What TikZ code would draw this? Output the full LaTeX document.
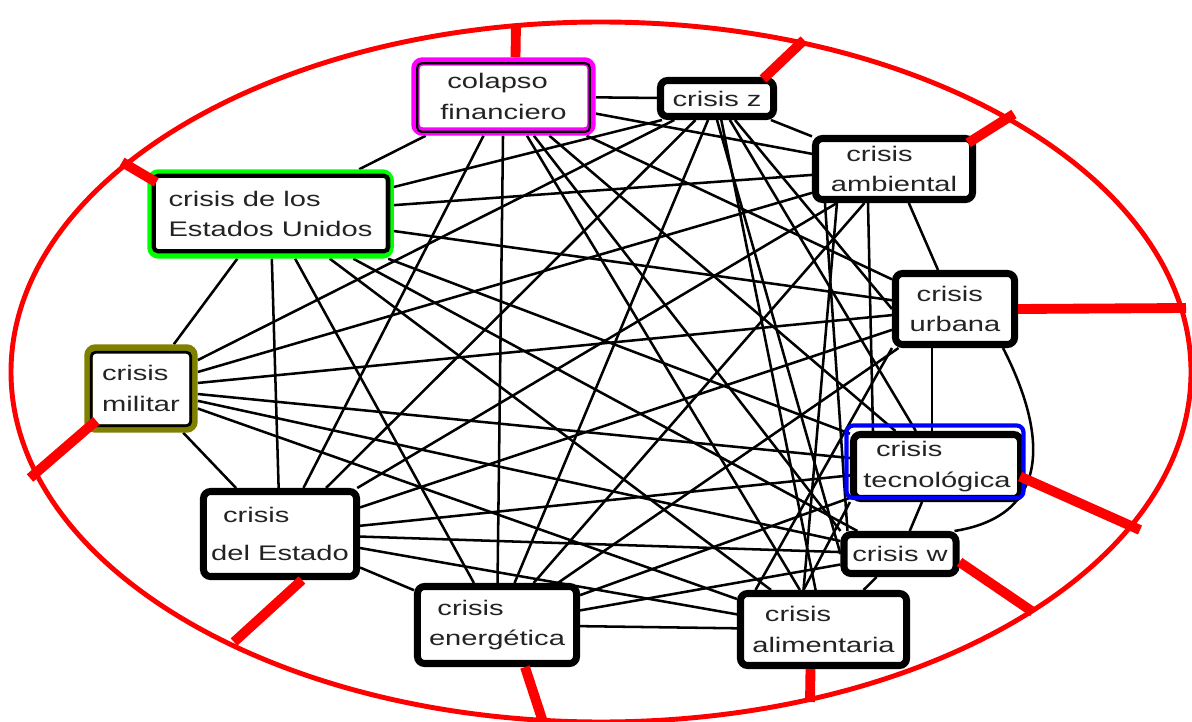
\documentclass[tikz,border=0pt]{standalone}
\usepackage{fontspec}
\setmainfont{Liberation Sans}[FakeStretch=1.38]
\usetikzlibrary{calc, backgrounds}
\definecolor{rimred}{RGB}{255, 0, 0}
\definecolor{finmagenta}{RGB}{255, 0, 255}
\definecolor{usgreen}{RGB}{0, 255, 0}
\definecolor{milolive}{RGB}{128, 128, 0}
\definecolor{tecblue}{RGB}{0, 0, 255}
\definecolor{labelgray}{RGB}{35, 35, 35}
\tikzset{
    crisisbox/.style={draw, line width=5pt, rounded corners=5pt, fill=white,
        align=left, inner sep=0pt, text=labelgray,
        font=\fontsize{15}{21.5}\selectfont},
    ringbox/.style={crisisbox, draw=#1, line width=6pt},
    innerline/.style={line width=#1, rounded corners=3pt},
    link/.style={line width=1.8pt},
    spoke/.style={draw=rimred, line width=7pt},
    rim/.style={draw=rimred, line width=3.5pt},
}

\begin{document}
\begin{tikzpicture}[x=0.025cm, y=-0.025cm]
    \useasboundingbox (0, 0) rectangle (1192, 722);
    \draw[rim] (601, 372) ellipse [x radius=590, y radius=350];
    % the crises
    \node[ringbox=finmagenta, minimum width=4.4cm, minimum height=1.75cm]
        (cf) at (503.5, 96.5) {\hspace*{5pt}colapso\\financiero};
    \draw[innerline=1.5pt] ($(cf.north west)+(6, 6)$) rectangle
        ($(cf.south east)+(-6, -4)$);
    \node[crisisbox, minimum width=2.825cm, minimum height=0.9cm]
        (cz) at (717, 98.5) {crisis z};
    \node[crisisbox, minimum width=3.925cm, minimum height=1.525cm]
        (ca) at (894, 169) {\hspace*{11pt}crisis\\ambiental};
    \node[crisisbox, minimum width=2.975cm, minimum height=1.775cm]
        (cu) at (955, 309) {\hspace*{5pt}crisis\\urbana};
    \node[crisisbox, minimum width=4.175cm, minimum height=1.6cm]
        (ct) at (937, 466.5) {\hspace*{9pt}crisis\\tecnológica};
    \draw[tecblue, line width=3pt, rounded corners=5pt]
        ($(ct.north west)+(-3.5, -5.5)$) rectangle ($(ct.south east)+(-0.5, -4)$);
    \node[crisisbox, minimum width=2.8cm, minimum height=0.975cm]
        (cw) at (900, 554) {crisis w};
    \node[crisisbox, minimum width=4.15cm, minimum height=1.8cm]
        (cal) at (823.5, 629.5) {\hspace*{9pt}crisis\\alimentaria};
    \node[crisisbox, minimum width=3.975cm, minimum height=1.925cm]
        (ce) at (497, 625) {\hspace*{6pt}crisis\\energética};
    \node[crisisbox, minimum width=3.825cm, minimum height=2.125cm]
        (cd) at (280, 534) {\hspace*{8.5pt}crisis\\[5pt]del Estado};
    \node[ringbox=milolive, minimum width=2.625cm, minimum height=2cm]
        (cm) at (141, 388.5) {crisis\\militar};
    \draw[innerline=2pt] ($(cm.north west)+(7, 8)$) rectangle
        ($(cm.south east)+(-7, -7)$);
    \node[ringbox=usgreen, minimum width=5.95cm, minimum height=2.025cm]
        (cus) at (270.5, 214) {crisis de los\\Estados Unidos};
    \draw[innerline=3pt] ($(cus.north west)+(6.5, 6.5)$) rectangle
        ($(cus.south east)+(-5.5, -7.5)$);
    % every crisis linked to the others
    \begin{scope}[on background layer]
        \foreach \a/\b in {cf/cz, cf/ca, cf/cu, cf/ct, cf/cal, cf/ce, cf/cd,
            cf/cus, cz/ca, cz/ct, cz/cal, cz/ce, cz/cd, cz/cm, ca/cu, ca/ce,
            ca/cd, ca/cm, ca/cus, cu/ce, cu/cd, cu/cm, cu/cus, ct/cw, ct/ce,
            ct/cd, ct/cm, ct/cus, cw/cal, cw/ce, cw/cd, cw/cm, cw/cus, cal/ce,
            cal/cd, cal/cm, cal/cus, ce/cd, ce/cus, cd/cm, cd/cus, cm/cus}
            \draw[link] (\a) -- (\b);
        % links that pass beside a box
        \draw[link] (cw.north west) -- (cf);
        \draw[link] ($(cz.south)+(18, 0)$) -- (cu.west);
        \draw[link] (cz.south) -- (cw.west);
        \draw[link] ($(cus.east)+(0, -27)$) -- ($(cz.south west)+(5, 0)$);
        \draw[link] ($(ca.south west)+(13, 0)$) -- ($(cw.north west)+(7, 0)$);
        \draw[link] ($(ca.south)+(-26, 0)$) -- ($(ct.north)+(-64, 0)$);
        \draw[link] ($(ca.south west)+(25, 0)$) -- ($(cal.north)+(-20, 0)$);
        \draw[link] ($(cu.south)+(-23, 0)$) -- ($(ct.north)+(-5, 0)$);
        \draw[link] (cu.south west) -- ($(cal.north)+(-68, 0)$);
        \draw[link] (ct.south west) -- ($(cal.north)+(-20, 0)$);
        \draw[link] ($(cu.south east)+(-15, 0)$) .. controls (1045, 430) and
            (1055, 515) .. ($(cw.north east)+(-5, 0)$);
    \end{scope}
    % spokes out to the rim
    \coordinate (cfrim) at (516, 24);
    \coordinate (czrim) at (804, 40);
    \coordinate (carim) at (1014, 114);
    \coordinate (curim) at (1186, 308);
    \coordinate (ctrim) at (1140, 530);
    \coordinate (cwrim) at (1033, 612);
    \coordinate (calrim) at (810, 702);
    \coordinate (cerim) at (543, 722);
    \coordinate (cdrim) at (234, 642);
    \coordinate (cmrim) at (30, 478);
    \coordinate (cusrim) at (122, 162);
    \draw[spoke] ($(cf.north)+(12, 0)$) -- (cfrim);
    \draw[spoke] ($(cz.north east)+(-14, 2)$) -- (czrim);
    \draw[spoke] ($(ca.north east)+(-8, 8)$) -- (carim);
    \draw[spoke] (cu.east) -- (curim);
    \draw[spoke] ($(ct.east)+(-4, 10)$) -- (ctrim);
    \draw[spoke] ($(cw.east)+(0, 8)$) -- (cwrim);
    \draw[spoke] ($(cal.south)+(-13, 0)$) -- (calrim);
    \draw[spoke] ($(ce.south)+(28, 0)$) -- (cerim);
    \draw[spoke] ($(cd.south)+(22, 0)$) -- (cdrim);
    \draw[spoke] ($(cm.south west)+(12, -12)$) -- (cmrim);
    \draw[spoke] ($(cus.north west)+(9, 13)$) -- (cusrim);
\end{tikzpicture}
\end{document}
